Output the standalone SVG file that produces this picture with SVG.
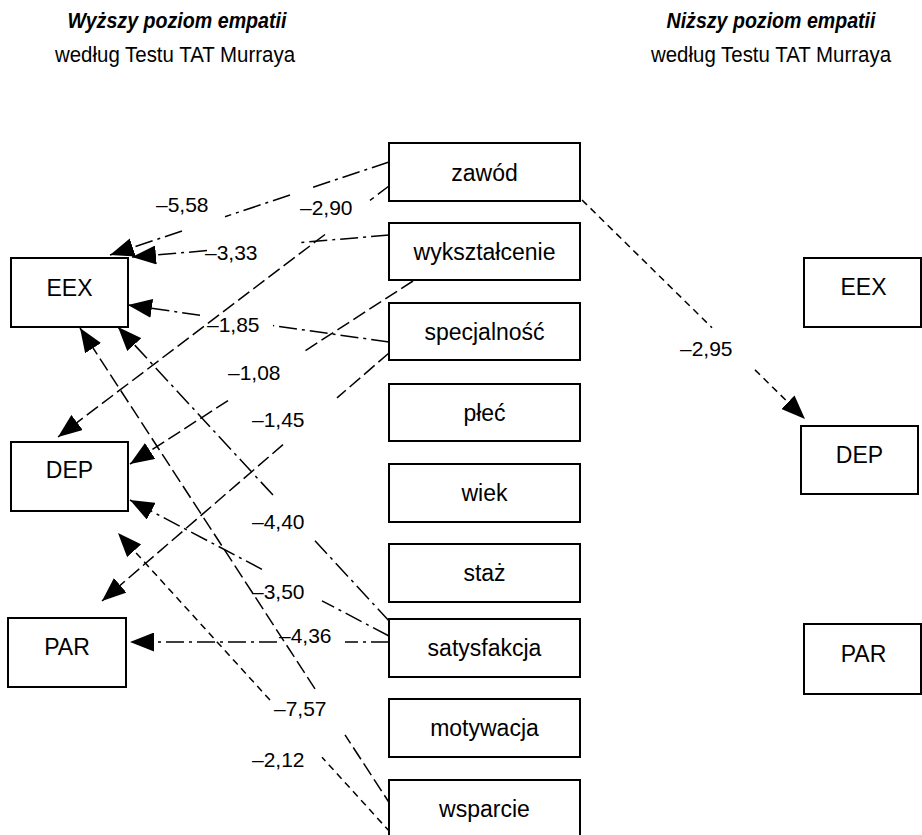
<svg xmlns="http://www.w3.org/2000/svg" width="922" height="835" viewBox="0 0 922 835">
  <style>
    text { font-family: "Liberation Sans", Arial, Helvetica, sans-serif; fill: #000; }
    .hd { font-size: 22px; text-anchor: middle; }
    .hdb { font-weight: bold; font-style: italic; }
    .box { fill: #fff; stroke: #000; stroke-width: 2; }
    .nt { font-size: 23px; text-anchor: middle; }
    .lbl { font-size: 21px; }
    .c { fill: none; stroke: #000; stroke-width: 1.5; marker-end: url(#arr); }
    .dd { stroke-dasharray: 18 5 3 5; }
    .ld { stroke-dasharray: 14 5; }
    .sd { stroke-dasharray: 7 5; }
  </style>
  <defs>
    <marker id="arr" markerUnits="userSpaceOnUse" markerWidth="24" markerHeight="19" refX="24" refY="9.5" orient="auto">
      <path d="M0,0 L24,9.5 L0,19 z" fill="#000"/>
    </marker>
  </defs>
  <rect width="922" height="835" fill="#fff"/>

  <!-- column headings -->
  <g id="heading-left">
    <text class="hd hdb" x="177" y="28" textLength="219" lengthAdjust="spacingAndGlyphs">Wyższy poziom empatii</text>
    <text class="hd" x="175" y="62" textLength="240" lengthAdjust="spacingAndGlyphs">według Testu TAT Murraya</text>
  </g>
  <g id="heading-right">
    <text class="hd hdb" x="771" y="28" textLength="209" lengthAdjust="spacingAndGlyphs">Niższy poziom empatii</text>
    <text class="hd" x="771" y="62" textLength="240" lengthAdjust="spacingAndGlyphs">według Testu TAT Murraya</text>
  </g>

  <!-- connectors (gaps leave room for the coefficients) -->
  <g id="connectors">
    <path class="c dd" d="M389,162 L313,187.3 M290,195 L225,216.7 M182,231 L110,255"/>
    <path class="c ld" d="M389,186 L370,200.4 M325,234.5 L58,437"/>
    <path class="c dd" d="M389,235 L297,242.9 M207,250.6 L132,257"/>
    <path class="c dd" d="M389,342 L273,325.6 M200,315.2 L128,305"/>
    <path class="c ld" d="M413,281 L302,352.8 M228,400.6 L130,464"/>
    <path class="c ld" d="M389,353 L337,397.9 M283,444.6 L102,601"/>
    <path class="c dd" d="M390,622 L315,540.7 M273,495.1 L118,327"/>
    <path class="c dd" d="M389,636 L322,600.8 M262,569.3 L130,500"/>
    <path class="c dd" d="M389,642 L345,642 M277,642 L130,642"/>
    <path class="c ld" d="M392,807 L345,734.8 M315,688.8 L80,328"/>
    <path class="c sd" d="M390,832 L322,757.2 M270,700.1 L118,533"/>
    <path class="c sd" d="M582,200 L712,327.7 M755,369.9 L805,419"/>
  </g>

  <!-- path coefficients -->
  <g id="coefficients">
    <text class="lbl" x="156" y="212">–5,58</text>
    <text class="lbl" x="300" y="215">–2,90</text>
    <text class="lbl" x="205" y="260">–3,33</text>
    <text class="lbl" x="207" y="332">–1,85</text>
    <text class="lbl" x="228" y="380">–1,08</text>
    <text class="lbl" x="252" y="427">–1,45</text>
    <text class="lbl" x="252" y="529">–4,40</text>
    <text class="lbl" x="252" y="599">–3,50</text>
    <text class="lbl" x="279" y="643">–4,36</text>
    <text class="lbl" x="274" y="716">–7,57</text>
    <text class="lbl" x="252" y="767">–2,12</text>
    <text class="lbl" x="680" y="356">–2,95</text>
  </g>

  <!-- outcome nodes, higher empathy -->
  <g id="eex-high"><rect class="box" x="11" y="258" width="117" height="69"/><text class="nt" x="69.5" y="296">EEX</text></g>
  <g id="dep-high"><rect class="box" x="11" y="442" width="117" height="69"/><text class="nt" x="69.5" y="478">DEP</text></g>
  <g id="par-high"><rect class="box" x="8" y="618" width="118" height="69"/><text class="nt" x="67" y="655">PAR</text></g>

  <!-- predictor nodes -->
  <g id="zawod"><rect class="box" x="389" y="143" width="191" height="58"/><text class="nt" x="484.5" y="181">zawód</text></g>
  <g id="wyksztalcenie"><rect class="box" x="389" y="223" width="191" height="57"/><text class="nt" x="484.5" y="260">wykształcenie</text></g>
  <g id="specjalnosc"><rect class="box" x="389" y="303" width="191" height="57"/><text class="nt" x="484.5" y="340">specjalność</text></g>
  <g id="plec"><rect class="box" x="389" y="384" width="191" height="57"/><text class="nt" x="484.5" y="421">płeć</text></g>
  <g id="wiek"><rect class="box" x="389" y="464" width="191" height="58"/><text class="nt" x="484.5" y="501">wiek</text></g>
  <g id="staz"><rect class="box" x="389" y="544" width="191" height="58"/><text class="nt" x="484.5" y="581">staż</text></g>
  <g id="satysfakcja"><rect class="box" x="389" y="619" width="191" height="58"/><text class="nt" x="484.5" y="656">satysfakcja</text></g>
  <g id="motywacja"><rect class="box" x="389" y="699" width="191" height="58"/><text class="nt" x="484.5" y="736">motywacja</text></g>
  <g id="wsparcie"><rect class="box" x="389" y="780" width="191" height="58"/><text class="nt" x="484.5" y="817">wsparcie</text></g>

  <!-- outcome nodes, lower empathy -->
  <g id="eex-low"><rect class="box" x="804" y="258" width="117" height="69"/><text class="nt" x="863.5" y="295">EEX</text></g>
  <g id="dep-low"><rect class="box" x="801" y="426" width="117" height="68"/><text class="nt" x="859.5" y="463">DEP</text></g>
  <g id="par-low"><rect class="box" x="804" y="624" width="117" height="70"/><text class="nt" x="863.5" y="662">PAR</text></g>
</svg>
